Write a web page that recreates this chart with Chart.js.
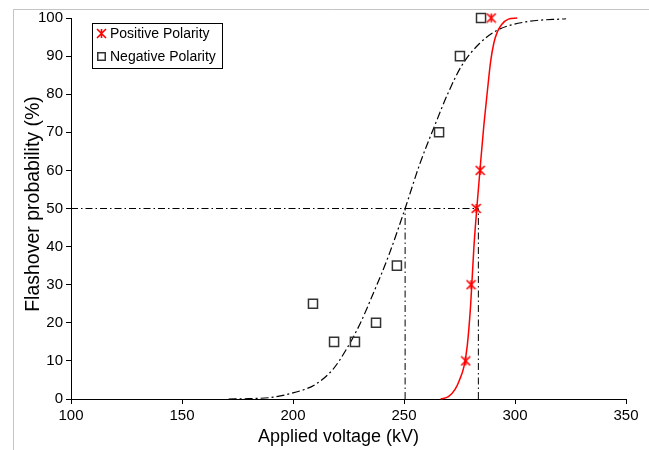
<!DOCTYPE html>
<html>
<head>
<meta charset="utf-8">
<script src="https://cdn.jsdelivr.net/npm/chart.js@4.4.1/dist/chart.umd.min.js"></script>
<style>
  html, body { margin: 0; padding: 0; background: #ffffff; }
  #wrap { position: relative; width: 649px; height: 450px; }
  canvas { display: block; }
</style>
</head>
<body>
<div id="wrap"><canvas id="chart" width="649" height="450"></canvas></div>
<script>
// Measured flashover probabilities (%) versus applied voltage (kV)
const posVoltage = [277.8, 280.2, 282.5, 284.3, 289.3];
const posProbability = [10, 30, 50, 60, 100];
const negVoltage = [209, 218.5, 227.9, 237.4, 246.8, 265.8, 275.2, 284.7];
const negProbability = [25, 15, 15, 20, 35, 70, 90, 100];

// Fitted cumulative curves
const posCurveVoltage = [266.5, 270, 273, 275, 277, 278.5, 280, 281.5, 283, 284.5, 286, 287.5, 289, 290.5, 292, 294, 297, 301];
const posCurveProbability = [0, 0.6, 2.5, 5, 8.5, 14, 24.5, 40, 51.5, 62, 72, 80.5, 88.5, 93.5, 96.3, 98.3, 99.7, 100];
const negCurveVoltage = [171, 180, 190, 200, 210, 218, 224, 230, 236, 243, 250.5, 257, 264, 270, 276, 284, 292, 305, 323];
const negCurveProbability = [0, 0.1, 0.4, 1.6, 3.8, 7.8, 13, 19.5, 27.5, 37.5, 50, 61.5, 72, 80.5, 87.5, 93.3, 96.8, 99, 99.8];

// 50 % flashover voltages
const v50Negative = 250.5;
const v50Positive = 283.5;
const p50 = 50;

// Axis ranges and labels
const xMin = 100, xMax = 350, xStep = 50;
const yMin = 0, yMax = 100, yStep = 10;
const xTitle = 'Applied voltage (kV)';
const yTitle = 'Flashover probability (%)';
const seriesNames = ['Positive Polarity', 'Negative Polarity'];

const FONT = '"Liberation Sans", Arial, Helvetica, sans-serif';
const RED = '#ff0000';
const SQUARE_EDGE = '#333333';

function toPoints(xs, ys) { return xs.map((x, i) => ({ x: x, y: ys[i] })); }

// Asterisk-style marker (X with a vertical stroke)
function makeStar(size, color, lw) {
  const c = document.createElement('canvas');
  c.width = size; c.height = size;
  const g = c.getContext('2d');
  g.strokeStyle = color; g.lineWidth = lw; g.lineCap = 'butt';
  const m = size / 2, r = size / 2 - 1;
  g.beginPath();
  g.moveTo(m - r, m - r); g.lineTo(m + r, m + r);
  g.moveTo(m + r, m - r); g.lineTo(m - r, m + r);
  g.moveTo(m, m - r); g.lineTo(m, m + r);
  g.stroke();
  return c;
}
const starMarker = makeStar(11, RED, 1.6);

function drawSquare(ctx, x, y, side) {
  ctx.save();
  ctx.strokeStyle = SQUARE_EDGE; ctx.lineWidth = 1.5;
  ctx.strokeRect(x - side / 2, y - side / 2, side, side);
  ctx.restore();
}

// Grey outer frame, axis titles and boxed legend
const framePlugin = {
  id: 'frame',
  beforeDraw(chart) {
    const ctx = chart.ctx;
    ctx.save();
    ctx.strokeStyle = '#c4c4c4'; ctx.lineWidth = 1;
    ctx.beginPath();
    ctx.moveTo(13.5, 450); ctx.lineTo(13.5, 9.5); ctx.lineTo(649, 9.5);
    ctx.stroke();
    ctx.restore();
  },
  afterDraw(chart) {
    const ctx = chart.ctx;
    ctx.save();
    // axis titles
    ctx.fillStyle = '#000000';
    ctx.textAlign = 'center';
    ctx.textBaseline = 'middle';
    ctx.font = '18px ' + FONT;
    ctx.fillText(xTitle, 338.5, 437);
    ctx.save();
    ctx.translate(34, 204);
    ctx.rotate(-Math.PI / 2);
    ctx.font = '19.5px ' + FONT;
    ctx.fillText(yTitle, 0, 0);
    ctx.restore();

    // legend
    ctx.fillStyle = '#ffffff';
    ctx.fillRect(92, 23, 130, 45);
    ctx.strokeStyle = '#000000'; ctx.lineWidth = 1;
    ctx.strokeRect(92.5, 23.5, 130, 45);
    ctx.drawImage(starMarker, 101.5 - 5.5, 33.5 - 5.5);
    drawSquare(ctx, 101.5, 56.5, 7.5);
    ctx.fillStyle = '#000000';
    ctx.font = '14px ' + FONT;
    ctx.textBaseline = 'middle';
    ctx.textAlign = 'left';
    ctx.fillText(seriesNames[0], 110, 34);
    ctx.fillText(seriesNames[1], 110, 57);
    ctx.restore();
  }
};

const guideStyle = {
  borderColor: '#000000', borderWidth: 1, borderDash: [7, 3, 1.5, 3],
  pointRadius: 0, showLine: true, fill: false, tension: 0
};

const chart = new Chart(document.getElementById('chart'), {
  type: 'scatter',
  data: {
    datasets: [
      {
        label: seriesNames[0],
        data: toPoints(posVoltage, posProbability),
        pointStyle: starMarker, pointRadius: 5.5, showLine: false,
        clip: false, order: 0
      },
      {
        label: seriesNames[1],
        data: toPoints(negVoltage, negProbability),
        pointStyle: 'rect', pointRadius: 6.4, pointBorderWidth: 1.5,
        pointBorderColor: SQUARE_EDGE, pointBackgroundColor: 'rgba(0,0,0,0)',
        showLine: false, clip: false, order: 1
      },
      {
        label: 'posFit',
        data: toPoints(posCurveVoltage, posCurveProbability),
        borderColor: RED, borderWidth: 1.5, pointRadius: 0,
        showLine: true, cubicInterpolationMode: 'monotone', clip: false, order: 2
      },
      {
        label: 'negFit',
        data: toPoints(negCurveVoltage, negCurveProbability),
        borderColor: '#000000', borderWidth: 1.2, borderDash: [8, 3, 2, 3],
        pointRadius: 0, showLine: true, cubicInterpolationMode: 'monotone', clip: false, order: 3
      },
      Object.assign({ label: 'h50', data: [{ x: xMin, y: p50 }, { x: v50Positive, y: p50 }], order: 4 }, guideStyle),
      Object.assign({ label: 'vNeg', data: [{ x: v50Negative, y: yMin }, { x: v50Negative, y: p50 }], order: 5 }, guideStyle),
      Object.assign({ label: 'vPos', data: [{ x: v50Positive, y: yMin }, { x: v50Positive, y: p50 }], order: 6 }, guideStyle)
    ]
  },
  options: {
    responsive: false,
    animation: false,
    devicePixelRatio: 1,
    layout: { padding: { left: 0, right: 23, top: 18, bottom: 0 } },
    plugins: { legend: { display: false }, tooltip: { enabled: false } },
    scales: {
      x: {
        type: 'linear', min: xMin, max: xMax,
        ticks: { stepSize: xStep, color: '#000', font: { family: FONT, size: 15 }, padding: 3, maxRotation: 0 },
        grid: { drawOnChartArea: false, drawTicks: true, tickLength: 5, color: '#000' },
        border: { display: true, color: '#000', width: 1 },
        title: { display: false },
        afterFit(scale) { scale.height = 51; }
      },
      y: {
        type: 'linear', min: yMin, max: yMax,
        ticks: { stepSize: yStep, color: '#000', font: { family: FONT, size: 15 }, padding: 3 },
        grid: { drawOnChartArea: false, drawTicks: true, tickLength: 5, color: '#000' },
        border: { display: true, color: '#000', width: 1 },
        title: { display: false },
        afterFit(scale) { scale.width = 71; }
      }
    }
  },
  plugins: [framePlugin]
});
</script>
</body>
</html>
